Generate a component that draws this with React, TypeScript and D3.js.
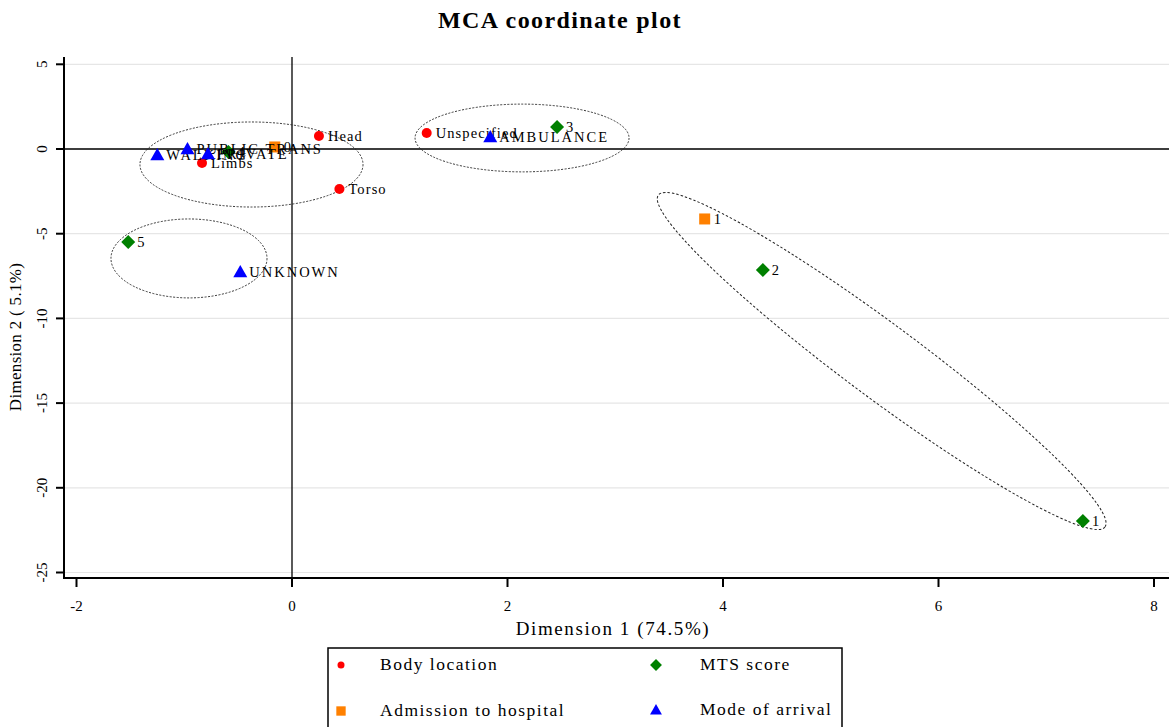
import React from 'react';
import * as d3 from 'd3';

// Category coordinates on the first two MCA dimensions
const seriesNames = ['Body location', 'Admission to hospital', 'MTS score', 'Mode of arrival'];

const bodyLabels = ['Head', 'Torso', 'Limbs', 'Unspecified'];
const bodyDim1 = [0.25, 0.44, -0.835, 1.25];
const bodyDim2 = [0.77, -2.36, -0.83, 0.94];

const admissionLabels = ['0', '1'];
const admissionDim1 = [-0.16, 3.83];
const admissionDim2 = [0.12, -4.13];

const mtsLabels = ['1', '2', '3', '4', '5'];
const mtsDim1 = [7.34, 4.37, 2.46, -0.59, -1.52];
const mtsDim2 = [-21.96, -7.14, 1.3, -0.18, -5.49];

const arrivalLabels = ['WALKING', 'PUBLIC TRANS', 'PRIVATE', 'AMBULANCE', 'UNKNOWN'];
const arrivalDim1 = [-1.25, -0.97, -0.78, 1.84, -0.48];
const arrivalDim2 = [-0.35, 0.0, -0.3, 0.71, -7.26];

const xTicks = [-2, 0, 2, 4, 6, 8];
const yTicks = [5, 0, -5, -10, -15, -20, -25];

// Axis-aligned cluster outlines (data units)
const clusterCx = [-0.376, 2.135, -0.956];
const clusterCy = [-0.915, 0.65, -6.46];
const clusterRx = [1.035, 0.993, 0.724];
const clusterRy = [2.51, 2.0, 2.33];

// Elongated cluster outline: tip-to-tip in data units
const longTipA = [3.4, -2.72];
const longTipB = [7.545, -22.31];

const W = 1169;
const H = 727;
const FONT = '"Liberation Serif", "Times New Roman", serif';

const x = d3.scaleLinear().domain([-2, 8]).range([76.5, 1154]);
const y = d3.scaleLinear().domain([5, -25]).range([64.3, 572.5]);

const plotLeft = 64;
const plotRight = W;
const plotTop = 57;
const plotBottom = 578;

const RED = '#ff0000';
const ORANGE = '#ff8000';
const GREEN = '#008000';
const BLUE = '#0000ff';

function Marker({ kind, cx, cy, scale = 1 }: { kind: string; cx: number; cy: number; scale?: number }) {
  if (kind === 'dot') return <circle cx={cx} cy={cy} r={5 * scale} fill={RED} />;
  if (kind === 'square') {
    const h = 5.5 * scale;
    return <rect x={cx - h} y={cy - h} width={2 * h} height={2 * h} fill={ORANGE} />;
  }
  if (kind === 'diamond') {
    const h = 7 * scale;
    return <path d={`M${cx},${cy - h}L${cx + h},${cy}L${cx},${cy + h}L${cx - h},${cy}Z`} fill={GREEN} />;
  }
  const h = 7 * scale;
  return <path d={`M${cx},${cy - h}L${cx + h},${cy + h * 0.75}L${cx - h},${cy + h * 0.75}Z`} fill={BLUE} />;
}

const series = [
  { kind: 'dot', labels: bodyLabels, d1: bodyDim1, d2: bodyDim2 },
  { kind: 'square', labels: admissionLabels, d1: admissionDim1, d2: admissionDim2 },
  { kind: 'diamond', labels: mtsLabels, d1: mtsDim1, d2: mtsDim2 },
  { kind: 'triangle', labels: arrivalLabels, d1: arrivalDim1, d2: arrivalDim2 },
];

export default function App() {
  const ax = x(longTipA[0]);
  const ay = y(longTipA[1]);
  const bx = x(longTipB[0]);
  const by = y(longTipB[1]);
  const lcx = (ax + bx) / 2;
  const lcy = (ay + by) / 2;
  const lrx = Math.hypot(bx - ax, by - ay) / 2;
  const lang = (Math.atan2(by - ay, bx - ax) * 180) / Math.PI;

  const legendItems = [
    { kind: 'dot', name: seriesNames[0], lx: 341, ly: 665 },
    { kind: 'diamond', name: seriesNames[2], lx: 656, ly: 665 },
    { kind: 'square', name: seriesNames[1], lx: 341, ly: 711 },
    { kind: 'triangle', name: seriesNames[3], lx: 656, ly: 710 },
  ];

  return (
    <svg
      width={W}
      height={H}
      style={{ position: 'absolute', left: 0, top: 0, background: '#fff' }}
      fontFamily={FONT}
    >
      <rect x={0} y={0} width={W} height={H} fill="#fff" />
      <text x={560} y={28} textAnchor="middle" fontSize={24} fontWeight="bold" letterSpacing={1.4}>
        MCA coordinate plot
      </text>

      {/* gridlines */}
      {yTicks.map((t) => (
        <line key={'g' + t} x1={plotLeft} x2={plotRight} y1={y(t)} y2={y(t)} stroke="#e6e6e6" strokeWidth={1.2} />
      ))}

      {/* zero reference lines */}
      <line x1={plotLeft} x2={plotRight} y1={y(0)} y2={y(0)} stroke="#000" strokeWidth={1.3} />
      <line x1={x(0)} x2={x(0)} y1={plotTop} y2={plotBottom} stroke="#000" strokeWidth={1.3} />

      {/* cluster outlines */}
      {clusterCx.map((c, i) => (
        <ellipse
          key={'e' + i}
          cx={x(c)}
          cy={y(clusterCy[i])}
          rx={x(clusterRx[i]) - x(0)}
          ry={y(-clusterRy[i]) - y(0)}
          fill="none"
          stroke="#222"
          strokeWidth={0.9}
          strokeDasharray="2,1.5"
        />
      ))}
      <ellipse
        cx={lcx}
        cy={lcy}
        rx={lrx}
        ry={37}
        transform={`rotate(${lang},${lcx},${lcy})`}
        fill="none"
        stroke="#222"
        strokeWidth={1}
        strokeDasharray="2.5,2"
      />

      {/* axes */}
      <line x1={plotLeft} x2={plotLeft} y1={plotTop} y2={plotBottom + 1} stroke="#000" strokeWidth={2} />
      <line x1={plotLeft - 1} x2={plotRight} y1={plotBottom} y2={plotBottom} stroke="#000" strokeWidth={2} />
      {yTicks.map((t) => (
        <g key={'yt' + t}>
          <line x1={plotLeft - 8} x2={plotLeft} y1={y(t)} y2={y(t)} stroke="#000" strokeWidth={2} />
          <text
            transform={`translate(${47},${y(t)}) rotate(-90)`}
            textAnchor="middle"
            fontSize={15}
          >
            {t}
          </text>
        </g>
      ))}
      {xTicks.map((t) => (
        <g key={'xt' + t}>
          <line x1={x(t)} x2={x(t)} y1={plotBottom} y2={plotBottom + 9} stroke="#000" strokeWidth={2} />
          <text x={x(t)} y={611} textAnchor="middle" fontSize={15}>
            {t}
          </text>
        </g>
      ))}
      <text x={613} y={635} textAnchor="middle" fontSize={19} letterSpacing={1.6}>
        Dimension 1 (74.5%)
      </text>
      <text transform={`translate(${21},${337}) rotate(-90)`} textAnchor="middle" fontSize={17} letterSpacing={0.3}>
        Dimension 2 ( 5.1%)
      </text>

      {/* points and labels */}
      {series.map((s, si) => (
        <g key={'s' + si}>
          {s.labels.map((lab, i) => (
            <g key={lab}>
              <Marker kind={s.kind} cx={x(s.d1[i])} cy={y(s.d2[i])} />
              <text
                x={x(s.d1[i]) + 9}
                y={y(s.d2[i]) + 2}
                dominantBaseline="middle"
                fontSize={14.5}
                letterSpacing={s.kind === 'triangle' ? 2 : 1.1}
              >
                {lab}
              </text>
            </g>
          ))}
        </g>
      ))}

      {/* legend */}
      <rect x={328} y={648} width={514} height={95} fill="none" stroke="#000" strokeWidth={1.5} />
      {legendItems.map((it) => (
        <g key={it.name}>
          <Marker kind={it.kind} cx={it.lx} cy={it.ly} scale={it.kind === 'dot' ? 0.7 : 0.85} />
          <text
            x={it.lx + (it.lx < 500 ? 39 : 44)}
            y={it.ly + 1}
            dominantBaseline="middle"
            fontSize={17.5}
            letterSpacing={1.5}
          >
            {it.name}
          </text>
        </g>
      ))}
    </svg>
  );
}
